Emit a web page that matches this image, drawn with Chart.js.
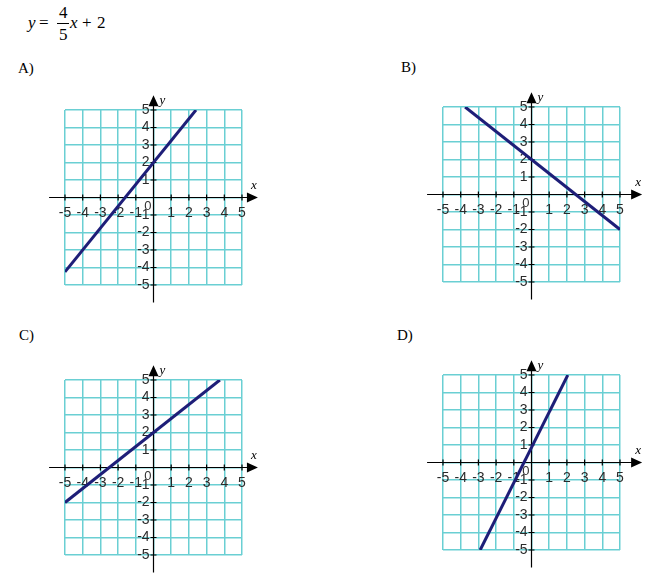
<!DOCTYPE html>
<html>
<head>
<meta charset="utf-8">
<script src="https://cdn.jsdelivr.net/npm/chart.js@4"></script>
<style>
  body { margin:0; background:#fff; width:650px; height:578px; position:relative; overflow:hidden; }
  .t { position:absolute; font-family:'Liberation Serif', 'Times New Roman', serif; line-height:1; color:#000; white-space:nowrap; }
  .i { font-style:italic; }
  canvas { position:absolute; }
  #bar { position:absolute; left:57px; top:23px; width:12px; height:1px; background:#000; }
</style>
</head>
<body>
<span class="t i" style="left:28px;top:14px;font-size:17px">y</span>
<span class="t" style="left:39px;top:14px;font-size:17px">=</span>
<span class="t" style="left:59px;top:4px;font-size:17px">4</span>
<div id="bar"></div>
<span class="t" style="left:59px;top:26px;font-size:17px">5</span>
<span class="t i" style="left:70px;top:14px;font-size:17px">x</span>
<span class="t" style="left:82px;top:14px;font-size:17px">+</span>
<span class="t" style="left:97px;top:14px;font-size:17px">2</span>

<span class="t" style="left:18px;top:61px;font-size:15px">A)</span>
<span class="t" style="left:401px;top:60px;font-size:15px">B)</span>
<span class="t" style="left:19px;top:328px;font-size:15px">C)</span>
<span class="t" style="left:397px;top:328px;font-size:15px">D)</span>

<canvas id="pa" width="231" height="225" style="left:43px;top:88px"></canvas>
<canvas id="pb" width="231" height="225" style="left:421px;top:85px"></canvas>
<canvas id="pc" width="231" height="225" style="left:43px;top:358px"></canvas>
<canvas id="pd" width="231" height="225" style="left:421px;top:353px"></canvas>

<script>
// tick values on both axes
const TICKS = [-5, -4, -3, -2, -1, 0, 1, 2, 3, 4, 5];

// end points of the line in each answer choice
const aX = [-5, 2.4];
const aY = [-4.25, 5];
const bX = [-3.75, 5];
const bY = [5, -2];
const cX = [-5, 3.75];
const cY = [-2, 5];
const dX = [-2.9, 2.05];
const dY = [-5, 5];

const GRID = '#6acfd3';
const LINE = '#1e1e78';
const LABEL_FONT = { family: 'Arial, "Liberation Sans", sans-serif', size: 14 };

// black axes with arrows, tick marks, x / y names and the 0
const axesPlugin = {
  id: 'axes',
  beforeDatasetsDraw(chart, args, opts){
    const {ctx, scales:{x, y}} = chart;
    const ox = x.getPixelForValue(0), oy = y.getPixelForValue(0);
    const xl = x.getPixelForValue(-5.9), xr = x.getPixelForValue(opts.xHi);
    const yt = y.getPixelForValue(5.85), yb = y.getPixelForValue(-6);
    ctx.save();
    ctx.strokeStyle = '#000'; ctx.fillStyle = '#000'; ctx.lineWidth = 1.2;
    ctx.beginPath();
    ctx.moveTo(xl, oy); ctx.lineTo(xr - 8, oy);
    ctx.moveTo(ox, yb); ctx.lineTo(ox, yt + 8);
    TICKS.forEach(v => {
      if (!v) return;
      const px = x.getPixelForValue(v), py = y.getPixelForValue(v);
      ctx.moveTo(px, oy - 3); ctx.lineTo(px, oy + 3);
      ctx.moveTo(ox - 3, py); ctx.lineTo(ox + 3, py);
    });
    ctx.stroke();
    ctx.beginPath();
    ctx.moveTo(xr, oy); ctx.lineTo(xr - 11, oy - 5); ctx.lineTo(xr - 11, oy + 5); ctx.closePath();
    ctx.moveTo(ox, yt); ctx.lineTo(ox - 5, yt + 11); ctx.lineTo(ox + 5, yt + 11); ctx.closePath();
    ctx.fill();
    ctx.font = 'italic 13px "Liberation Serif", serif';
    ctx.textAlign = 'center'; ctx.textBaseline = 'alphabetic';
    ctx.fillText('x', xr - 4, oy - 9);
    ctx.textAlign = 'left';
    ctx.fillText('y', ox + 6, yt + 9);
    ctx.font = '13px Arial, "Liberation Sans", sans-serif'; ctx.fillStyle = '#333';
    ctx.textAlign = 'right'; ctx.textBaseline = 'top';
    ctx.fillText('0', ox - 2, oy + 2);
    ctx.restore();
  }
};

function scaleOpts(pos, label){
  return {
    type: 'linear', min: -5, max: 5, position: pos,
    afterBuildTicks: s => { s.ticks = TICKS.map(v => ({value: v})); },
    grid: { color: GRID, lineWidth: 1.5, drawTicks: false },
    border: { display: false },
    ticks: { callback: label, padding: 7, color: '#2a2a2a', autoSkip: false, maxRotation: 0, font: LABEL_FONT }
  };
}

function makePanel(id, xs, ys, xHi){
  new Chart(document.getElementById(id), {
    type: 'scatter',
    data: { datasets: [{ data: xs.map((v, i) => ({x: v, y: ys[i]})), showLine: true,
      borderColor: LINE, borderWidth: 3, pointRadius: 0 }] },
    options: {
      responsive: false, animation: false,
      layout: { padding: { left: 22, top: 22, right: 32, bottom: 28 } },
      plugins: { legend: { display: false }, tooltip: { enabled: false }, axes: { xHi } },
      scales: {
        x: scaleOpts({y: 0}, v => v === 0 ? '' : String(v)),
        y: scaleOpts({x: 0}, v => v === 0 ? '' : v + ' ')
      }
    },
    plugins: [axesPlugin]
  });
}

makePanel('pa', aX, aY, 5.9);
makePanel('pb', bX, bY, 6.25);
makePanel('pc', cX, cY, 5.9);
makePanel('pd', dX, dY, 6.25);
</script>
</body>
</html>
